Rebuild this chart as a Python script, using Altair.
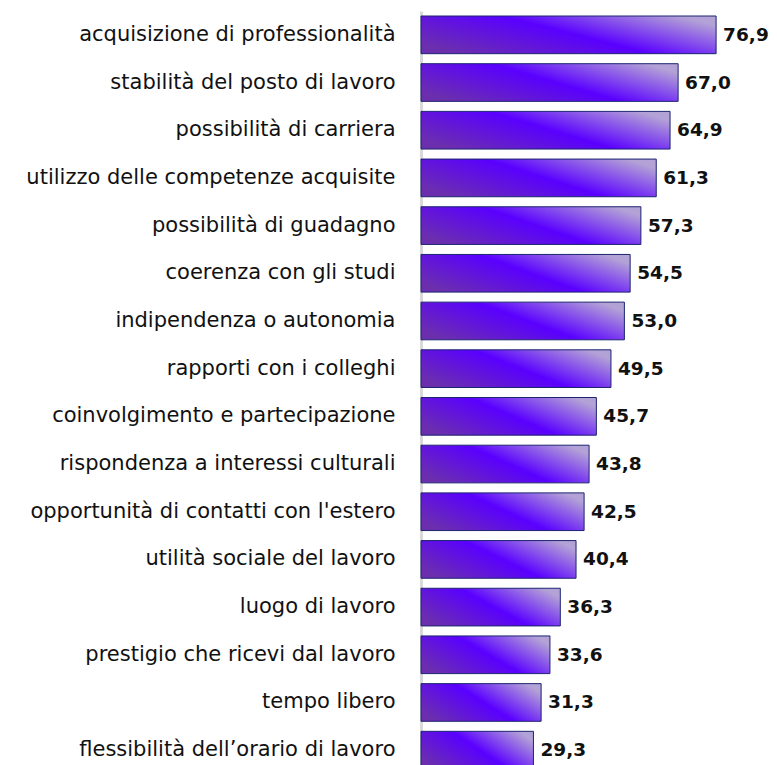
import altair as alt
import pandas as pd

categories = [
    "acquisizione di professionalità",
    "stabilità del posto di lavoro",
    "possibilità di carriera",
    "utilizzo delle competenze acquisite",
    "possibilità di guadagno",
    "coerenza con gli studi",
    "indipendenza o autonomia",
    "rapporti con i colleghi",
    "coinvolgimento e partecipazione",
    "rispondenza a interessi culturali",
    "opportunità di contatti con l'estero",
    "utilità sociale del lavoro",
    "luogo di lavoro",
    "prestigio che ricevi dal lavoro",
    "tempo libero",
    "flessibilità dell\u2019orario di lavoro",
]
values = [76.9, 67.0, 64.9, 61.3, 57.3, 54.5, 53.0, 49.5, 45.7, 43.8, 42.5, 40.4, 36.3, 33.6, 31.3, 29.3]

df = pd.DataFrame({"cat": categories, "v": values})

grad = alt.Gradient(
    gradient="linear",
    stops=[
        alt.GradientStop(color="#6b2fae", offset=0),
        alt.GradientStop(color="#5a00ff", offset=0.52),
        alt.GradientStop(color="#b3a2d6", offset=1),
    ],
    x1=0, y1=0.75, x2=1, y2=0.25,
)

y_enc = alt.Y(
    "cat:N",
    sort=categories,
    scale=alt.Scale(paddingInner=0.21, paddingOuter=0.105),
    axis=alt.Axis(
        title=None,
        ticks=False,
        labelFont="DejaVu Sans",
        labelFontSize=21,
        labelColor="#111111",
        labelPadding=26,
        labelLimit=500,
        domainColor="#d9d9d9",
        domainWidth=3,
        grid=False,
    ),
)
x_enc = alt.X("v:Q", scale=alt.Scale(domain=[0, 80]), axis=None)

bars = alt.Chart(df).mark_bar(
    color=grad, stroke="#1c2470", strokeWidth=1
).encode(y=y_enc, x=x_enc)

labels = alt.Chart(df).transform_calculate(
    lab="replace(format(datum.v, '.1f'), '.', ',')"
).mark_text(
    align="left", baseline="middle", dx=7, font="DejaVu Sans", fontSize=18.5,
    fontWeight="bold", color="#111111"
).encode(y=alt.Y("cat:N", sort=categories), x="v:Q", text="lab:N")

chart = alt.layer(bars, labels).properties(
    width=307,
    height=763,
    autosize=alt.AutoSizeParams(type="none"),
    padding={"left": 413, "top": 3, "right": 41, "bottom": 0},
).configure_view(stroke=None)

chart.save("out.html", embed_options={"renderer": "svg", "actions": False})
